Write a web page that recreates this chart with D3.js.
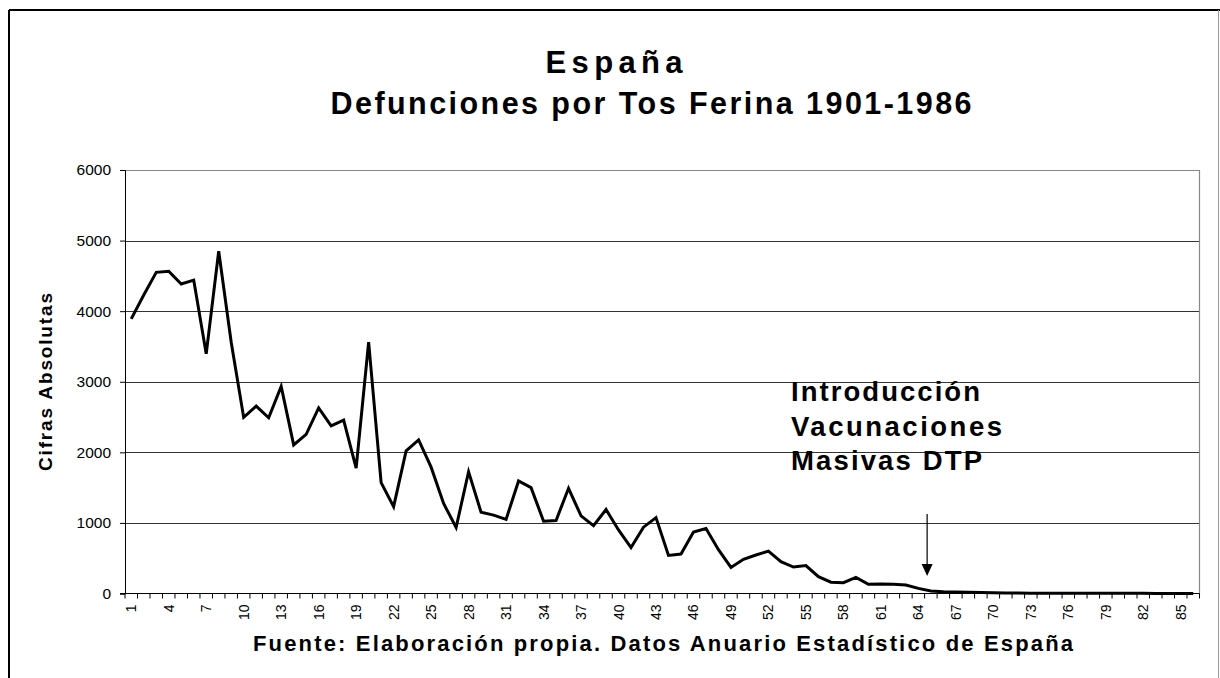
<!DOCTYPE html>
<html><head><meta charset="utf-8">
<script src="https://cdnjs.cloudflare.com/ajax/libs/d3/7.8.5/d3.min.js"></script>
<style>
body{margin:0;background:#fff;}
svg{display:block;font-family:"Liberation Sans",Arial,sans-serif;}
</style></head>
<body>
<svg id="chart" width="1220" height="678"></svg>
<script>
const categories = d3.range(1, 87);
const deaths = [
 3890,4230,4550,4565,4385,4440,3395,4850,3560,2495,
 2655,2490,2935,2105,2255,2630,2375,2455,1775,3560,
 1570,1230,2020,2175,1790,1275,935,1725,1150,1110,
 1050,1595,1500,1025,1035,1490,1100,960,1190,900,
 650,940,1075,540,560,870,920,620,370,485,
 545,600,450,375,395,238,160,153,228,130,
 135,130,120,73,35,25,20,18,15,10,
 8,6,5,4,4,3,3,4,3,2,
 2,2,1,1,1,1
];
const yTicks = [0,1000,2000,3000,4000,5000,6000];
const xLabelCats = categories.filter(d => (d - 1) % 3 === 0);
const titleLines = ["España", "Defunciones por Tos Ferina 1901-1986"];
const yAxisTitle = "Cifras Absolutas";
const sourceText = "Fuente: Elaboración propia. Datos Anuario Estadístico de España";
const noteLines = ["Introducción", "Vacunaciones", "Masivas DTP"];
const noteCat = 65.2;

const svg = d3.select("#chart");
const L = 125, R = 1199.5, T = 170, B = 593.5;

const x = d3.scaleBand().domain(categories).range([L, R]).padding(0);
const y = d3.scaleLinear().domain([0, 6000]).range([B, T]);
const cx = d => x(d) + x.bandwidth() / 2;

// outer frame
svg.append("line").attr("x1",9).attr("x2",1220).attr("y1",10).attr("y2",10).attr("stroke","#000").attr("stroke-width",2);
svg.append("line").attr("x1",9).attr("x2",9).attr("y1",10).attr("y2",678).attr("stroke","#000").attr("stroke-width",2);
svg.append("line").attr("x1",1218.5).attr("x2",1218.5).attr("y1",10).attr("y2",678).attr("stroke","#999").attr("stroke-width",1);

// gridlines
svg.append("g").selectAll("line").data(yTicks.filter(v => v > 0 && v < 6000)).join("line")
  .attr("x1", L).attr("x2", R)
  .attr("y1", d => Math.round(y(d)) + 0.5).attr("y2", d => Math.round(y(d)) + 0.5)
  .attr("stroke", "#333").attr("stroke-width", 1);
// plot border top/right (gray)
svg.append("path")
  .attr("d", `M${L},${Math.round(y(6000))+0.5}H${R}V${B}`)
  .attr("fill","none").attr("stroke","#888").attr("stroke-width",1.2);

// y axis
const yAxis = d3.axisLeft(y).tickValues(yTicks).tickSize(5).tickPadding(9).tickFormat(d3.format("d"));
const gy = svg.append("g").attr("transform", `translate(${L},0)`).call(yAxis);
gy.select(".domain").attr("stroke","#000");
gy.selectAll(".tick line").attr("stroke","#000");
gy.selectAll("text").attr("font-size", 15.5).attr("fill","#000").attr("font-family","Liberation Sans, Arial, sans-serif");

// x axis line
svg.append("line").attr("x1", L - 5).attr("x2", R).attr("y1", B).attr("y2", B).attr("stroke","#000");
// tick marks between categories
const tickPos = categories.map(d => x(d)).concat([x(86) + x.bandwidth()]);
svg.append("g").selectAll("line").data(tickPos).join("line")
  .attr("x1", d => d).attr("x2", d => d).attr("y1", B).attr("y2", B + 5)
  .attr("stroke","#000");
// x labels
svg.append("g").selectAll("text").data(xLabelCats).join("text")
  .attr("transform", d => `translate(${cx(d) + 5},${B + 11}) rotate(-90)`)
  .attr("text-anchor","end")
  .attr("font-size", 14).attr("fill","#000")
  .text(d => d);

// data line
const line = d3.line().x((d, i) => cx(categories[i])).y(d => y(d));
svg.append("path").datum(deaths).attr("d", line)
  .attr("fill","none").attr("stroke","#000").attr("stroke-width",3).attr("stroke-linejoin","miter");

// helper for letter-spaced bold text
function label(tx, ty, txt, size, len, anchor, rot) {
  const g = svg.append("g").attr("transform", `translate(${tx},${ty})${rot ? " rotate(" + rot + ")" : ""}`);
  g.append("text").attr("x", 0).attr("y", 0).attr("text-anchor", anchor)
    .attr("font-size", size).attr("font-weight", "bold")
    .attr("textLength", len).attr("lengthAdjust", "spacing")
    .text(txt);
}

// titles
label(614, 73, titleLines[0], 31, 137, "middle", 0);
label(651, 114, titleLines[1], 30.5, 641, "middle", 0);

// y axis title
label(52, 382, yAxisTitle, 19, 178, "middle", -90);

// source
label(663, 651, sourceText, 22, 820, "middle", 0);

// annotation
const noteW = [189, 211, 191];
noteLines.forEach((t, i) => label(791, 401 + i * 34.7, t, 27.5, noteW[i], "start", 0));

// arrow
const ax = x(Math.floor(noteCat)) + x.bandwidth() * (noteCat - Math.floor(noteCat));
svg.append("line").attr("x1", ax).attr("x2", ax).attr("y1", 514).attr("y2", 566).attr("stroke","#000").attr("stroke-width",1.2);
svg.append("path").attr("d", `M${ax-5.5},564L${ax+5.5},564L${ax},576Z`).attr("fill","#000");
</script>
</body></html>
